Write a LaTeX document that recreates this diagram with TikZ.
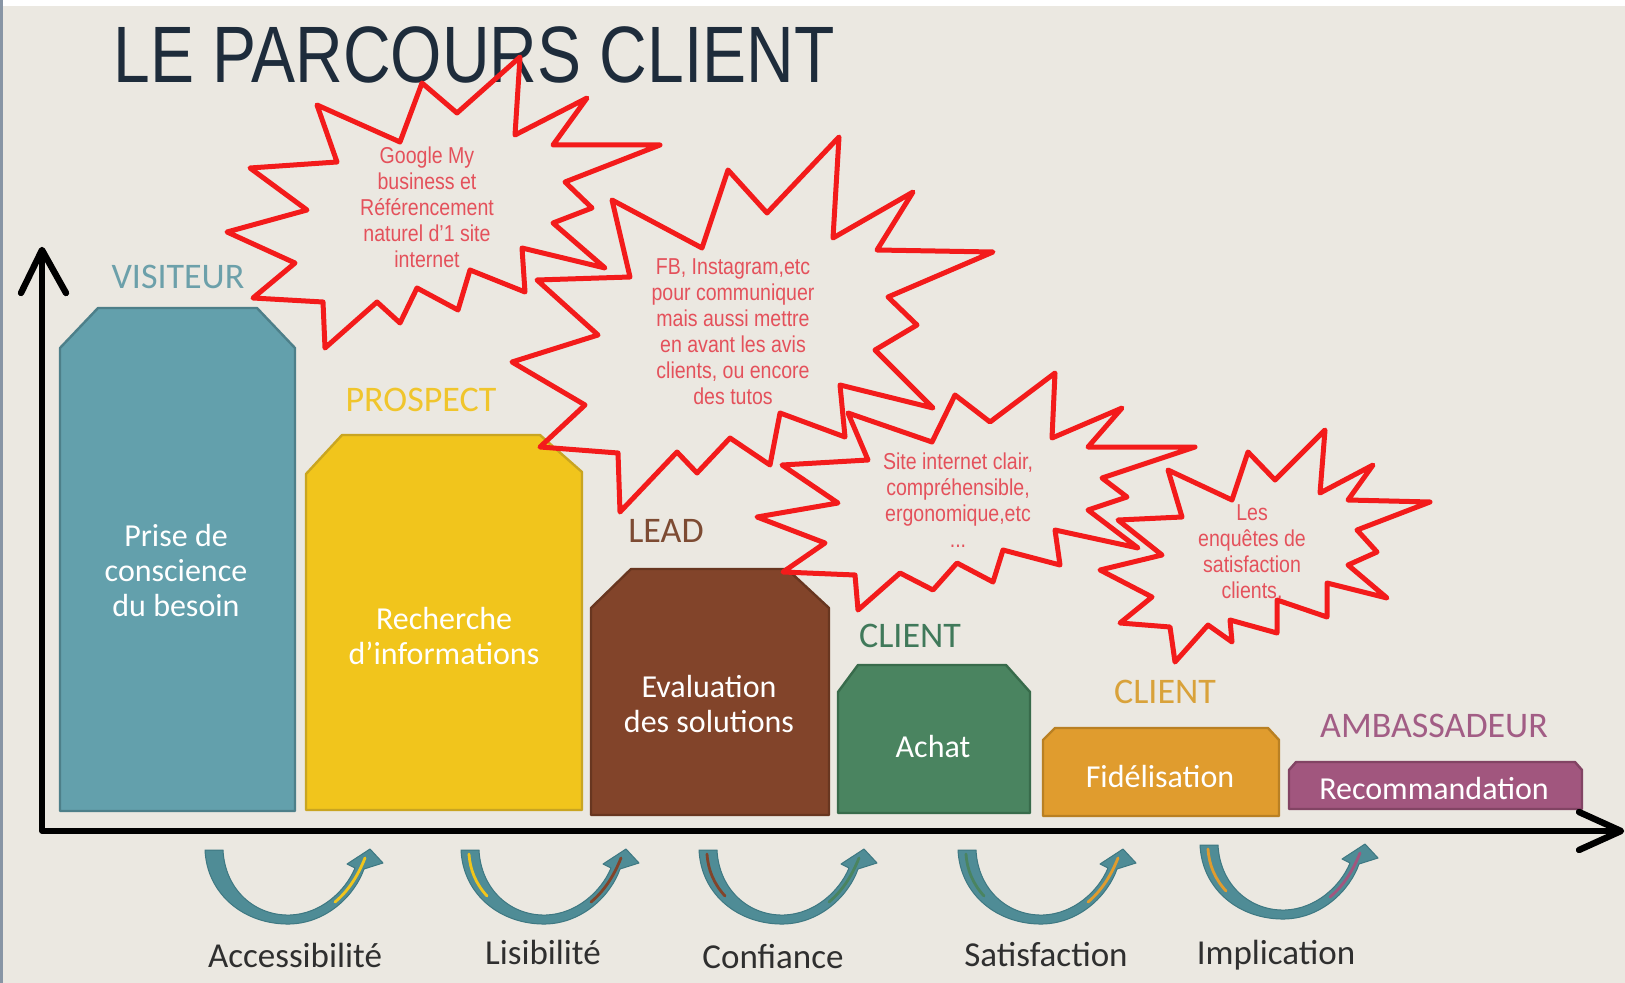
\documentclass[tikz,border=0pt]{standalone}
\usepackage{fontspec}
\setmainfont{Carlito}
\newfontfamily\narrowfont{Liberation Sans}
\newfontfamily\condfont[FakeStretch=0.85]{Liberation Sans}
\usepackage{tikz}
\usepackage{xcolor}
\usepackage{graphicx}
\usetikzlibrary{calc}

\definecolor{paper}{HTML}{EBE8E1}
\definecolor{ink}{HTML}{1E2C3B}
\definecolor{edge}{HTML}{8895A5}
\definecolor{cTeal}{HTML}{63A0AC}
\definecolor{cTealD}{HTML}{4D7F89}
\definecolor{cYellow}{HTML}{F1C51C}
\definecolor{cYellowD}{HTML}{C9A521}
\definecolor{cBrown}{HTML}{82442A}
\definecolor{cBrownD}{HTML}{683620}
\definecolor{cGreen}{HTML}{4A8460}
\definecolor{cGreenD}{HTML}{386B4B}
\definecolor{cOrange}{HTML}{E09C2E}
\definecolor{cOrangeD}{HTML}{B98023}
\definecolor{cPurple}{HTML}{A1567E}
\definecolor{cPurpleD}{HTML}{824464}
\definecolor{lVis}{HTML}{6CA0AA}
\definecolor{lPro}{HTML}{F0C52C}
\definecolor{lLead}{HTML}{7D4B33}
\definecolor{lCli}{HTML}{40795A}
\definecolor{lFid}{HTML}{D9A23A}
\definecolor{lAmb}{HTML}{A25D85}
\definecolor{cBurst}{HTML}{F31B1B}
\definecolor{cBurstTxt}{HTML}{E4515B}
\definecolor{cArrow}{HTML}{4F8C96}
\definecolor{cArrowD}{HTML}{3E7882}
\definecolor{lbl}{HTML}{2F2F2F}

\begin{document}
\begin{tikzpicture}[x=0.5pt, y=-0.5pt,
    bar/.style={line width=1.2pt, line join=round},
    stage/.style={font=\fontsize{18}{20}\selectfont},
    bartxt/.style={text=white, align=center, font=\fontsize{16}{17.5}\selectfont},
    burstline/.style={draw=cBurst, line width=2.5pt, line join=round},
    bursttxt/.style={text=cBurstTxt, align=center, font=\condfont\fontsize{11.5}{13}\selectfont},
    axis/.style={line width=2.6pt, line cap=round, line join=round},
    uarrow/.style={fill=cArrow, draw=cArrowD, line width=0.5pt, line join=round},
    stripe/.style={line width=1.4pt, line cap=round},
    steplbl/.style={text=lbl, font=\fontsize{17.5}{20}\selectfont}]

  \useasboundingbox (0,0) rectangle (1625,983);
  \fill[paper] (0,0) rectangle (1625,983);
  \fill[white] (0,0) rectangle (1625,6);
  \fill[edge] (0,0) rectangle (3,983);

  \node[anchor=base west, inner sep=0pt, text=ink, font=\narrowfont\fontsize{40}{40}\selectfont] (title) at (113,83)
    {\scalebox{0.825}[1]{LE PARCOURS CLIENT}};

  % les etapes
  \draw[bar, fill=cTeal, draw=cTealD] (60,811) -- (60,348) -- (98,308) -- (257,308) -- (295,348) -- (295,811) -- cycle;
  \draw[bar, fill=cYellow, draw=cYellowD] (306,810) -- (306,474) -- (342,435) -- (540,435) -- (582,472) -- (582,810) -- cycle;
  \draw[bar, fill=cBrown, draw=cBrownD] (591,815) -- (591,608) -- (631,569) -- (787,569) -- (829,608) -- (829,815) -- cycle;
  \draw[bar, fill=cGreen, draw=cGreenD] (838,813) -- (838,692) -- (858,665) -- (1006,665) -- (1030,692) -- (1030,813) -- cycle;
  \draw[bar, fill=cOrange, draw=cOrangeD] (1043,816) -- (1043,740) -- (1055,728) -- (1268,728) -- (1279,740) -- (1279,816) -- cycle;
  \draw[bar, fill=cPurple, draw=cPurpleD] (1289,809) -- (1289,770) -- (1296,762) -- (1575,762) -- (1582,770) -- (1582,809) -- cycle;

  \node[stage, text=lVis] (lblVis) at (178,277) {VISITEUR};
  \node[stage, text=lPro] (lblPro) at (421,400) {PROSPECT};
  \node[stage, text=lLead] (lblLead) at (666,531) {LEAD};
  \node[stage, text=lCli] (lblCli) at (910,636) {CLIENT};
  \node[stage, text=lFid] (lblFid) at (1165,692) {CLIENT};
  \node[stage, text=lAmb] (lblAmb) at (1434,726) {AMBASSADEUR};

  \node[bartxt] (txtVis) at (176,571) {Prise de\\conscience\\du besoin};
  \node[bartxt] (txtPro) at (444,636) {Recherche\\d’informations};
  \node[bartxt] (txtLead) at (709,704) {Evaluation\\des solutions};
  \node[bartxt] (txtCli) at (933,747) {Achat};
  \node[bartxt] (txtFid) at (1160,777) {Fidélisation};
  \node[bartxt] (txtAmb) at (1434,789) {Recommandation};

  % axes
  \coordinate (origin) at (42,831);
  \coordinate (ytop) at (42,250);
  \coordinate (xend) at (1621,831);
  \draw[axis] (ytop) -- (origin) -- (xend);
  \draw[axis, line width=3.2pt] ($(ytop)+(-21,43)$) -- (ytop) -- ($(ytop)+(24,43)$);
  \draw[axis, line width=3.2pt] ($(xend)+(-42,-19)$) -- (xend) -- ($(xend)+(-42,19)$);

  % bulles
  \draw[burstline] (317,105) -- (400,142) -- (422,83) -- (457,113) -- (520,57) -- (515,135) -- (587,98) -- (553,145)
    -- (660,145) -- (565,182) -- (592,208) -- (553,223) -- (605,268) -- (522,248) -- (525,292) -- (470,270)
    -- (458,310) -- (417,288) -- (400,323) -- (377,302) -- (325,348) -- (323,302) -- (253,298) -- (295,263)
    -- (227,232) -- (307,210) -- (250,168) -- (337,162) -- cycle;
  \draw[burstline] (612,200) -- (702,248) -- (728,170) -- (767,213) -- (839,137) -- (833,238) -- (913,192) -- (877,250)
    -- (993,252) -- (888,297) -- (917,325) -- (875,350) -- (933,408) -- (840,385) -- (845,437) -- (780,413)
    -- (770,465) -- (730,438) -- (697,473) -- (677,452) -- (620,512) -- (618,453) -- (540,447) -- (585,405)
    -- (512,362) -- (598,335) -- (537,280) -- (630,277) -- cycle;
  \draw[burstline] (848,413) -- (932,442) -- (955,395) -- (990,422) -- (1055,373) -- (1052,438) -- (1122,408) -- (1088,447)
    -- (1195,447) -- (1102,478) -- (1127,497) -- (1088,510) -- (1138,548) -- (1055,530) -- (1060,565) -- (1003,550)
    -- (993,582) -- (957,563) -- (933,590) -- (900,573) -- (858,610) -- (855,575) -- (783,572) -- (825,543)
    -- (757,517) -- (838,503) -- (782,465) -- (868,460) -- cycle;
  \draw[burstline] (1168,470) -- (1232,500) -- (1248,452) -- (1275,480) -- (1325,430) -- (1320,493) -- (1373,465) -- (1348,500)
    -- (1430,502) -- (1357,530) -- (1377,552) -- (1348,565) -- (1387,598) -- (1327,583) -- (1327,617) -- (1277,600)
    -- (1277,633) -- (1230,620) -- (1232,642) -- (1208,625) -- (1175,662) -- (1170,627) -- (1120,623) -- (1152,597)
    -- (1100,570) -- (1162,555) -- (1118,520) -- (1182,517) -- cycle;

  \node[bursttxt] (bub1) at (427,207) {Google My\\business et\\Référencement\\naturel d’1 site\\internet};
  \node[bursttxt] (bub2) at (733,332) {FB, Instagram,etc\\pour communiquer\\mais aussi mettre\\en avant les avis\\clients, ou encore\\des tutos};
  \node[bursttxt] (bub3) at (958,500) {Site internet clair,\\compréhensible,\\ergonomique,etc\\...};
  \node[bursttxt] (bub4) at (1252,552) {Les\\enquêtes de\\satisfaction\\clients.};

  % fleches du bas
  \foreach \xa/\ya/\colL/\colR in {205/850/cArrow/cYellow, 461/850/cYellow/cBrown, 699/850/cBrown/cGreen,
      958/850/cGreen/cOrange, 1200/845/cOrange/cPurple}
  {
    \begin{scope}[shift={(\xa,\ya)}]
      \filldraw[uarrow] (0,0) .. controls (2,45) and (40,75) .. (85,74) .. controls (122,73) and (150,45) .. (159,19)
        -- (178,13) -- (165,-1) -- (142,14) -- (150,18) .. controls (140,42) and (115,64) .. (85,65)
        .. controls (50,66) and (20,40) .. (18,0) -- cycle;
      \draw[stripe, \colL] (8,4) .. controls (9,20) and (15,34) .. (26,46);
      \draw[stripe, \colR] (130,52) .. controls (142,42) and (152,28) .. (160,8);
    \end{scope}
  }

  \node[steplbl] (acc) at (295,955) {Accessibilité};
  \node[steplbl] (lis) at (543,952) {Lisibilité};
  \node[steplbl] (conf) at (773,957) {Confiance};
  \node[steplbl] (sat) at (1046,955) {Satisfaction};
  \node[steplbl] (impl) at (1276,955) {Implication};
\end{tikzpicture}
\end{document}
